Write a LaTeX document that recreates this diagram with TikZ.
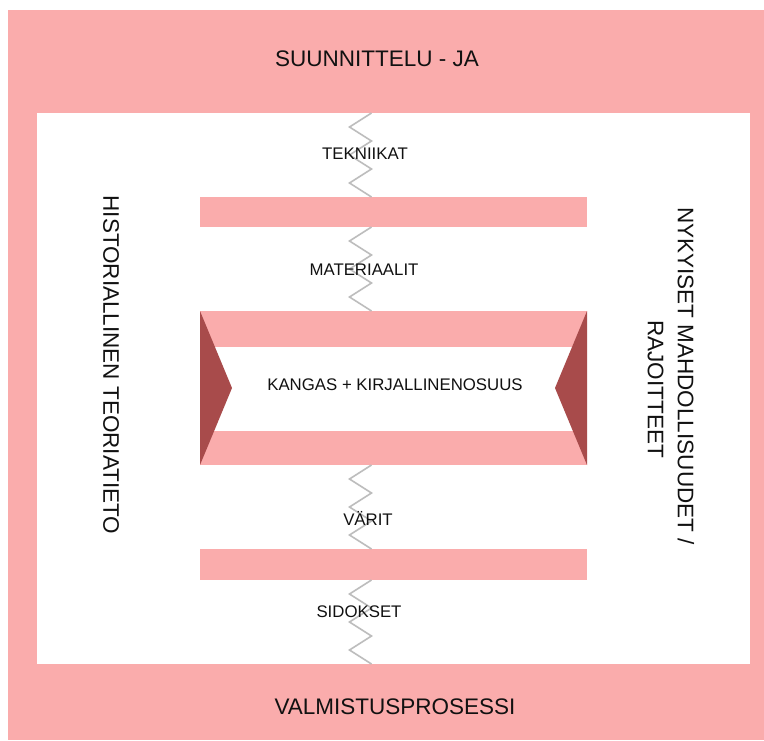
\documentclass[tikz,border=0pt]{standalone}
\usepackage{fontspec}
\setmainfont{Liberation Sans}
\usetikzlibrary{calc}
\definecolor{pinkband}{HTML}{FAACAC}
\definecolor{darkred}{HTML}{A84B4B}
\definecolor{zzgray}{HTML}{BDBDBD}
\definecolor{ink}{HTML}{111111}
\newcommand\zigline[1]{\draw[zig] (#1) \foreach \k in {1,2,3} {-- ++(-22,14) -- ++(22,14)};}
\begin{document}
\begin{tikzpicture}[x=1pt,y=-1pt,
  bandbox/.style={fill=pinkband,draw=none,inner sep=0pt,outer sep=0pt,anchor=north west},
  whitebox/.style={fill=white,draw=none,inner sep=0pt,outer sep=0pt,anchor=north west},
  zig/.style={draw=zzgray,line width=1.6pt,line join=miter},
  lbl/.style={font=\fontsize{16.8}{19}\selectfont,text=ink,anchor=base,inner sep=0pt},
  big/.style={font=\fontsize{22.5}{30}\selectfont,text=ink,inner sep=0pt}]
\useasboundingbox (0,0) rectangle (764,740);
% frame
\node[bandbox,minimum width=756,minimum height=730] (frame) at (8,10) {};
\node[whitebox,minimum width=713,minimum height=551] (inner) at (37,113) {};
% bars
\node[bandbox,minimum width=387,minimum height=30] (bar1) at (200,197) {};
\node[bandbox,minimum width=387,minimum height=154] (core) at (200,311) {};
\node[whitebox,minimum width=387,minimum height=84] (stripe) at (200,347) {};
\node[bandbox,minimum width=387,minimum height=31] (bar3) at (200,549) {};
% dark side triangles
\fill[darkred] (core.north west) -- ($(core.west)+(32,0)$) -- (core.south west) -- cycle;
\fill[darkred] (core.north east) -- ($(core.east)+(-32,0)$) -- (core.south east) -- cycle;
% zigzag connectors
\coordinate (z1) at (371.5,113);
\coordinate (z2) at (371.5,227);
\coordinate (z3) at (371.5,465);
\coordinate (z4) at (371.5,580);
\zigline{z1}
\zigline{z2}
\zigline{z3}
\zigline{z4}
% texts
\node[big,anchor=base] (title) at (377,66) {SUUNNITTELU - JA};
\node[big,anchor=base] (bottom) at (395,714) {VALMISTUSPROSESSI};
\node[lbl] (tek) at (365,159) {TEKNIIKAT};
\node[lbl] (mat) at (364,275) {MATERIAALIT};
\node[lbl] (kan) at (395,390) {KANGAS + KIRJALLINENOSUUS};
\node[lbl] (var) at (368,525) {VÄRIT};
\node[lbl] (sid) at (359,617) {SIDOKSET};
\node[big,rotate=-90] (hist) at (111,365) {HISTORIALLINEN TEORIATIETO};
\node[big,rotate=-90,align=center] (nyk) at (671,376) {NYKYISET MAHDOLLISUUDET /\\\hspace*{26pt}RAJOITTEET};
\end{tikzpicture}
\end{document}
